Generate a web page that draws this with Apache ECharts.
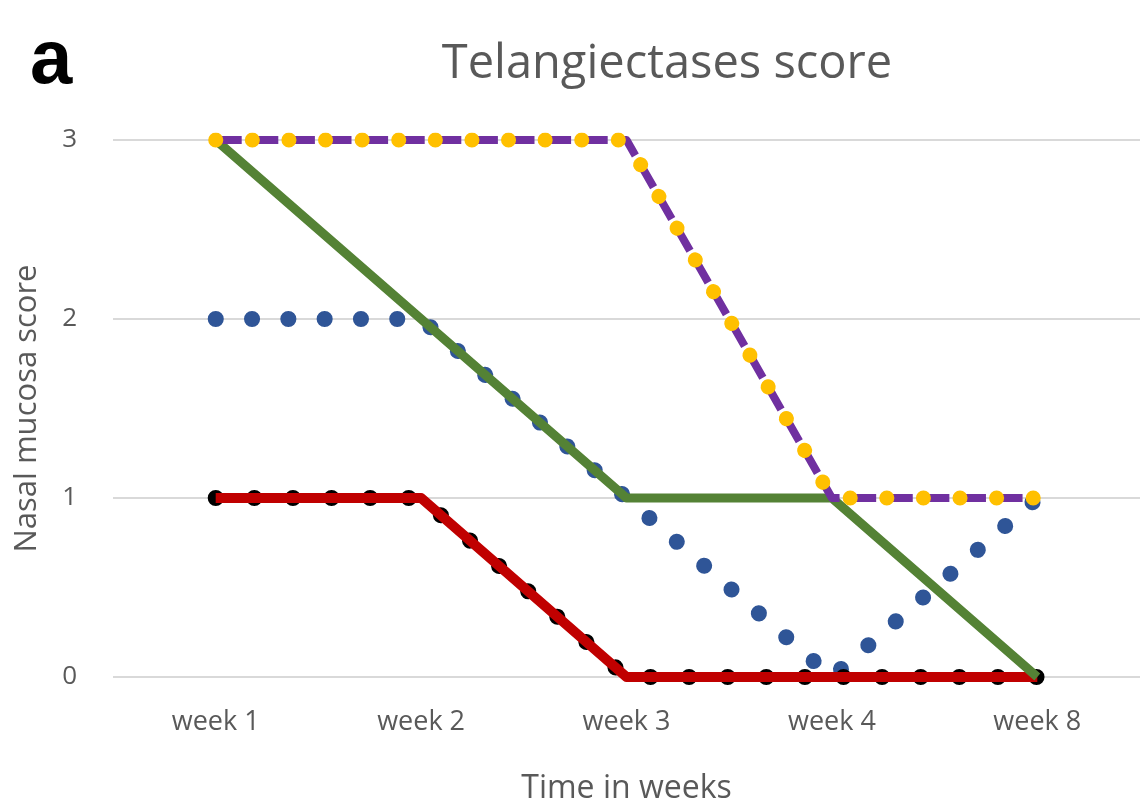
<!DOCTYPE html>
<html>
<head>
<meta charset="utf-8">
<script src="https://cdn.jsdelivr.net/npm/echarts@6/dist/echarts.min.js"></script>
<style>
  html, body { margin: 0; padding: 0; background: #fff; }
  #main { width: 1144px; height: 811px; }
</style>
</head>
<body>
<div id="main"></div>
<script>
// categories on the x axis
var weeks = ["week 1", "week 2", "week 3", "week 4", "week 8"];
// series values (score 0-3)
var purpleDashed = [3, 3, 3, 1, 1];
var yellowDotted = [3, 3, 3, 1, 1];
var greenSolid = [3, 2, 1, 1, 0];
var blueDotted = [2, 2, 1, 0, 1];
var blackDotted = [1, 1, 0, 0, 0];
var redSolid = [1, 1, 0, 0, 0];
var yTicks = [0, 1, 2, 3];

var myChart = echarts.init(document.getElementById("main"));

function lineSerie(name, data, color, width, dash, cap, z) {
  return {
    name: name,
    type: "line",
    data: data,
    symbol: "none",
    smooth: false,
    z: z,
    lineStyle: {
      color: color,
      width: width,
      type: dash,
      cap: cap,
      join: "round",
    },
  };
}

myChart.setOption({
  animation: false,
  title: {
    text: "Telangiectases score",
    left: 662,
    top: 36,
    textAlign: "center",
    textStyle: {
      fontFamily: "Open Sans",
      fontWeight: "normal",
      fontSize: 47,
      color: "#595959",
    },
  },
  graphic: [
    {
      type: "text",
      left: 30,
      top: 24,
      style: {
        text: "a",
        font: "bold 76px Liberation Sans",
        fill: "#000",
      },
    },
  ],
  grid: {
    left: 113,
    right: 4,
    top: 140,
    bottom: 134,
    outerBoundsMode: "none",
  },
  xAxis: {
    type: "category",
    data: weeks,
    boundaryGap: true,
    name: "Time in weeks",
    nameLocation: "middle",
    nameGap: 96,
    nameTextStyle: {
      fontFamily: "Open Sans",
      fontSize: 32,
      color: "#595959",
    },
    axisLine: { show: false },
    axisTick: { show: false },
    axisLabel: {
      margin: 32,
      fontFamily: "Open Sans",
      fontSize: 27,
      color: "#595959",
    },
  },
  yAxis: {
    type: "value",
    min: yTicks[0],
    max: yTicks[yTicks.length - 1],
    interval: 1,
    name: "Nasal mucosa score",
    nameLocation: "middle",
    nameGap: 70,
    nameTextStyle: {
      fontFamily: "Open Sans",
      fontSize: 31,
      color: "#595959",
    },
    axisLine: { show: false },
    axisTick: { show: false },
    axisLabel: {
      margin: 36,
      fontFamily: "Open Sans",
      fontSize: 26,
      color: "#595959",
    },
    splitLine: {
      lineStyle: { color: "#d9d9d9", width: 2 },
    },
  },
  series: [
    lineSerie("blue", blueDotted, "#2F5597", 16, [0.1, 36.2], "round", 2),
    lineSerie("black", blackDotted, "#000000", 16, [0.1, 38.5], "round", 3),
    lineSerie("red", redSolid, "#C00000", 10, "solid", "butt", 4),
    lineSerie("green", greenSolid, "#548235", 9, "solid", "butt", 5),
    lineSerie("purple", purpleDashed, "#7030A0", 8, [26, 10.6], "butt", 6),
    lineSerie("yellow", yellowDotted, "#FFC000", 15, [0.1, 36.5], "round", 7),
  ],
});
</script>
</body>
</html>
